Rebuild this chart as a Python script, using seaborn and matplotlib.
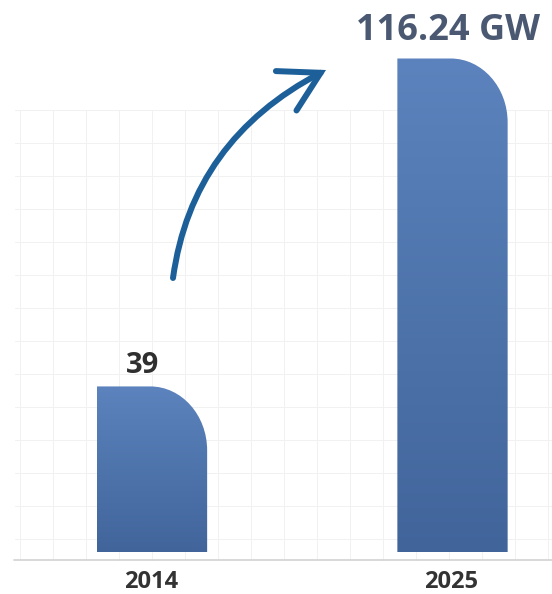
import numpy as np
import pandas as pd
import matplotlib
matplotlib.use("Agg")
import matplotlib.pyplot as plt
import seaborn as sns
from matplotlib.path import Path
from matplotlib.patches import PathPatch, FancyArrowPatch
from matplotlib.colors import LinearSegmentedColormap

# ---- data ----
years = ["2014", "2025"]
capacity = [39, 116.24]
value_labels = ["39", "116.24 GW"]

sns.set_theme(style="white")
plt.rcParams['font.family'] = ['Open Sans', 'DejaVu Sans']

W, H = 552, 594
fig = plt.figure(figsize=(W / 100, H / 100), dpi=100)
fig.patch.set_facecolor("white")
ax = fig.add_axes([0, 0, 1, 1])

df = pd.DataFrame({"year": years, "capacity": capacity})
sns.barplot(data=df, x="year", y="capacity", ax=ax, width=0.367,
            color="#5a80b8", saturation=1)

# pixel mapping
x_per_px = 1 / 300.5
y_per_px = 116.24 / 493.5
ax.set_xlim(-152 * x_per_px, (W - 152) * x_per_px)
ax.set_ylim(-(H - 552) * y_per_px, 552 * y_per_px)
ax.axis("off")


def px2fig(x, y):
    return (x / W, 1 - y / H)


# faint background grid
grid_col = "#f1f1f1"
for gx in np.arange(20, W, 33):
    ax.plot([gx / W, gx / W], [1 - 110 / H, 1 - 560 / H], transform=fig.transFigure,
            color=grid_col, lw=0.7, zorder=0)
for gy in np.arange(110, 560, 33):
    ax.plot([15 / W, 1], [1 - gy / H, 1 - gy / H], transform=fig.transFigure,
            color=grid_col, lw=0.7, zorder=0)

# baseline
ax.plot([14 / W, 1], [1 - 560 / H, 1 - 560 / H], transform=fig.transFigure,
        color="#d2d2d2", lw=1.2, zorder=1)

# rounded, gradient bars
cmap = LinearSegmentedColormap.from_list("barg", ["#41659b", "#5c83bd"])
rx = 57 * x_per_px
ry = 64 * y_per_px
k = 0.5523
for p in list(ax.patches):
    x0, w, h = p.get_x(), p.get_width(), p.get_height()
    p.set_visible(False)
    x1 = x0 + w
    verts = [(x0, 0), (x0, h), (x1 - rx, h),
             (x1 - rx + k * rx, h), (x1, h - ry + k * ry), (x1, h - ry),
             (x1, 0), (x0, 0)]
    codes = [Path.MOVETO, Path.LINETO, Path.LINETO,
             Path.CURVE4, Path.CURVE4, Path.CURVE4,
             Path.LINETO, Path.CLOSEPOLY]
    shape = PathPatch(Path(verts, codes), facecolor="none", edgecolor="none")
    ax.add_patch(shape)
    grad = np.linspace(0, 1, 256).reshape(-1, 1)
    im = ax.imshow(grad, extent=(x0, x1, 0, h), origin="lower", cmap=cmap,
                   aspect="auto", zorder=2)
    im.set_clip_path(shape)

ax.set_xlim(-152 * x_per_px, (W - 152) * x_per_px)
ax.set_ylim(-(H - 552) * y_per_px, 552 * y_per_px)

# value labels
offsets = [(-7, 10), (-3, 13)]
styles = [dict(fontsize=21, color="#2f2f2f", fontweight="bold"),
          dict(fontsize=26, color="#4a5872", fontweight="bold")]
for i, (lab, v) in enumerate(zip(value_labels, capacity)):
    ax.annotate(lab, xy=(i, v), xytext=offsets[i], textcoords="offset points",
                ha="center", va="baseline", **styles[i])

# category labels
for i, yr in enumerate(years):
    ax.annotate(yr, xy=(i, 0), xytext=(-1, -13), textcoords="offset points",
                ha="center", va="top", fontsize=17, fontweight="bold",
                color="#333333")

# curved arrow
P0, P1, P2 = px2fig(173, 278), px2fig(192, 140), px2fig(326, 70)
arrow = FancyArrowPatch(path=Path([P0, P1, P2], [Path.MOVETO, Path.CURVE3, Path.CURVE3]),
                        arrowstyle="->,head_length=28,head_width=16",
                        mutation_scale=1, transform=fig.transFigure,
                        color="#1c5f99", lw=4.3, capstyle="round",
                        joinstyle="miter", zorder=5)
ax.add_patch(arrow)

fig.savefig("out.png", dpi=100, facecolor="white")
